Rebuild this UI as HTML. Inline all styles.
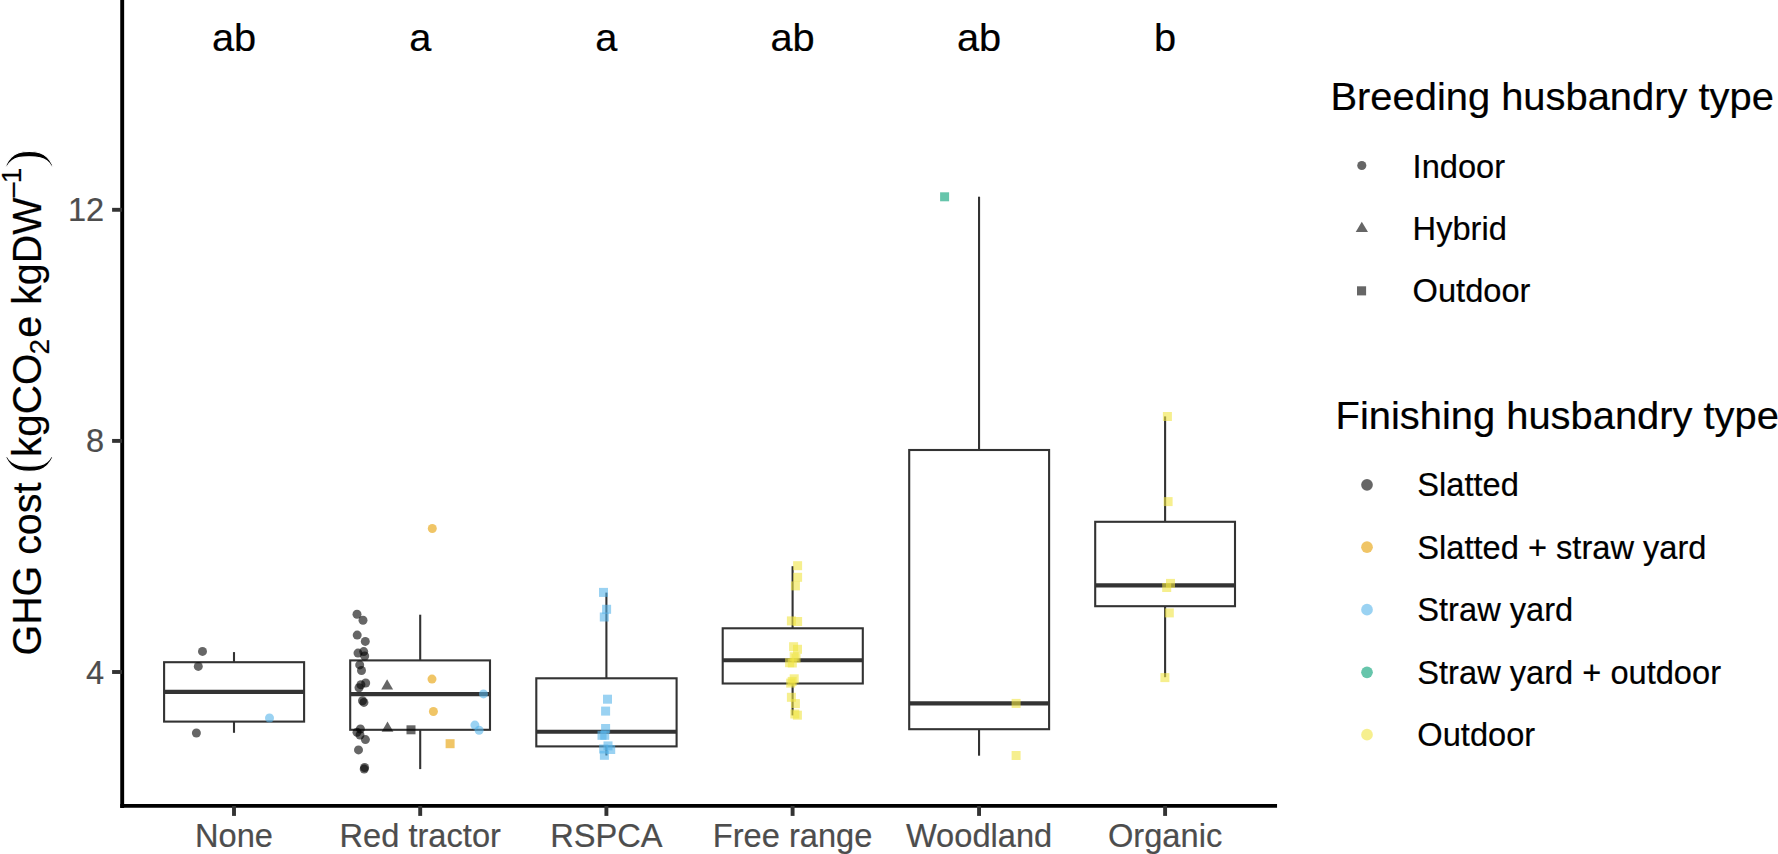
<!DOCTYPE html>
<html lang="en"><head><meta charset="utf-8"><title>GHG cost by label type</title>
<style>html,body{margin:0;padding:0;background:#fff;}body{width:1778px;height:854px;overflow:hidden;}svg{display:block;}text{font-family:"Liberation Sans",Arial,Helvetica,sans-serif;}</style>
</head><body>
<svg width="1778" height="854" viewBox="0 0 1778 854">
<rect width="1778" height="854" fill="#fff"/>
<g fill="none" stroke="#333333" stroke-width="2.1" stroke-linecap="butt">
<line x1="234.00" y1="652.10" x2="234.00" y2="662.20"/>
<line x1="234.00" y1="721.60" x2="234.00" y2="732.80"/>
<rect x="164.10" y="662.20" width="140.00" height="59.40" fill="#fff"/>
<line x1="164.10" y1="691.90" x2="304.10" y2="691.90" stroke-width="4.1"/>
<line x1="420.20" y1="614.70" x2="420.20" y2="660.40"/>
<line x1="420.20" y1="729.80" x2="420.20" y2="769.10"/>
<rect x="350.20" y="660.40" width="139.80" height="69.40" fill="#fff"/>
<line x1="350.20" y1="694.10" x2="490.00" y2="694.10" stroke-width="4.1"/>
<line x1="606.40" y1="592.60" x2="606.40" y2="678.30"/>
<line x1="606.40" y1="746.40" x2="606.40" y2="755.50"/>
<rect x="536.30" y="678.30" width="140.30" height="68.10" fill="#fff"/>
<line x1="536.30" y1="731.80" x2="676.60" y2="731.80" stroke-width="4.1"/>
<line x1="792.60" y1="566.20" x2="792.60" y2="628.30"/>
<line x1="792.60" y1="683.50" x2="792.60" y2="715.40"/>
<rect x="722.70" y="628.30" width="140.10" height="55.20" fill="#fff"/>
<line x1="722.70" y1="660.20" x2="862.80" y2="660.20" stroke-width="4.1"/>
<line x1="979.05" y1="196.70" x2="979.05" y2="450.00"/>
<line x1="979.05" y1="729.20" x2="979.05" y2="755.70"/>
<rect x="909.20" y="450.00" width="139.90" height="279.20" fill="#fff"/>
<line x1="909.20" y1="703.40" x2="1049.10" y2="703.40" stroke-width="4.1"/>
<line x1="1165.10" y1="416.40" x2="1165.10" y2="521.80"/>
<line x1="1165.10" y1="606.20" x2="1165.10" y2="677.20"/>
<rect x="1095.20" y="521.80" width="139.80" height="84.40" fill="#fff"/>
<line x1="1095.20" y1="585.40" x2="1235.00" y2="585.40" stroke-width="4.1"/>
</g>
<g fill-opacity="0.6">
<circle cx="202.5" cy="651.4" r="4.5" fill="#000000"/>
<circle cx="198.3" cy="666.4" r="4.5" fill="#000000"/>
<circle cx="196.4" cy="733.0" r="4.5" fill="#000000"/>
<circle cx="269.5" cy="718.0" r="4.5" fill="#56B4E9"/>
<circle cx="357.0" cy="614.3" r="4.5" fill="#000000"/>
<circle cx="363.0" cy="620.2" r="4.5" fill="#000000"/>
<circle cx="357.2" cy="635.1" r="4.5" fill="#000000"/>
<circle cx="365.3" cy="641.4" r="4.5" fill="#000000"/>
<circle cx="358.0" cy="653.1" r="4.5" fill="#000000"/>
<circle cx="363.7" cy="651.6" r="4.5" fill="#000000"/>
<circle cx="364.7" cy="656.0" r="4.5" fill="#000000"/>
<circle cx="359.7" cy="664.9" r="4.5" fill="#000000"/>
<circle cx="361.5" cy="670.5" r="4.5" fill="#000000"/>
<circle cx="365.7" cy="683.0" r="4.5" fill="#000000"/>
<circle cx="360.9" cy="684.8" r="4.5" fill="#000000"/>
<circle cx="359.0" cy="687.7" r="4.5" fill="#000000"/>
<circle cx="362.5" cy="700.8" r="4.5" fill="#000000"/>
<circle cx="363.9" cy="702.4" r="4.5" fill="#000000"/>
<circle cx="360.4" cy="729.0" r="4.5" fill="#000000"/>
<circle cx="357.0" cy="732.3" r="4.5" fill="#000000"/>
<circle cx="360.0" cy="735.0" r="4.5" fill="#000000"/>
<circle cx="365.4" cy="739.6" r="4.5" fill="#000000"/>
<circle cx="358.5" cy="749.9" r="4.5" fill="#000000"/>
<circle cx="364.6" cy="767.5" r="4.5" fill="#000000"/>
<circle cx="364.2" cy="769.1" r="4.5" fill="#000000"/>
<circle cx="432.3" cy="528.5" r="4.5" fill="#E69F00"/>
<circle cx="432.0" cy="679.1" r="4.5" fill="#E69F00"/>
<circle cx="433.4" cy="711.5" r="4.5" fill="#E69F00"/>
<circle cx="483.5" cy="693.9" r="4.5" fill="#56B4E9"/>
<circle cx="474.9" cy="725.1" r="4.5" fill="#56B4E9"/>
<circle cx="479.1" cy="730.2" r="4.5" fill="#56B4E9"/>
<path d="M387.1 679.2L393.1 689.5L381.2 689.5Z" fill="#000000"/>
<path d="M387.5 721.4L393.4 731.7L381.6 731.7Z" fill="#000000"/>
<rect x="406.5" y="725.3" width="9.0" height="9.0" fill="#000000"/>
<rect x="445.6" y="739.2" width="9.0" height="9.0" fill="#E69F00"/>
<rect x="599.0" y="587.9" width="9.0" height="9.0" fill="#56B4E9"/>
<rect x="602.1" y="604.8" width="9.0" height="9.0" fill="#56B4E9"/>
<rect x="599.8" y="612.5" width="9.0" height="9.0" fill="#56B4E9"/>
<rect x="603.0" y="694.7" width="9.0" height="9.0" fill="#56B4E9"/>
<rect x="601.1" y="706.6" width="9.0" height="9.0" fill="#56B4E9"/>
<rect x="601.1" y="724.0" width="9.0" height="9.0" fill="#56B4E9"/>
<rect x="597.5" y="730.8" width="9.0" height="9.0" fill="#56B4E9"/>
<rect x="600.2" y="730.8" width="9.0" height="9.0" fill="#56B4E9"/>
<rect x="603.5" y="741.4" width="9.0" height="9.0" fill="#56B4E9"/>
<rect x="599.2" y="744.5" width="9.0" height="9.0" fill="#56B4E9"/>
<rect x="606.2" y="745.0" width="9.0" height="9.0" fill="#56B4E9"/>
<rect x="599.9" y="750.8" width="9.0" height="9.0" fill="#56B4E9"/>
<rect x="793.1" y="561.2" width="9.0" height="9.0" fill="#F0E442"/>
<rect x="793.1" y="572.8" width="9.0" height="9.0" fill="#F0E442"/>
<rect x="790.9" y="581.4" width="9.0" height="9.0" fill="#F0E442"/>
<rect x="786.9" y="616.4" width="9.0" height="9.0" fill="#F0E442"/>
<rect x="793.1" y="617.0" width="9.0" height="9.0" fill="#F0E442"/>
<rect x="789.1" y="642.2" width="9.0" height="9.0" fill="#F0E442"/>
<rect x="793.0" y="644.8" width="9.0" height="9.0" fill="#F0E442"/>
<rect x="789.7" y="652.2" width="9.0" height="9.0" fill="#F0E442"/>
<rect x="791.5" y="653.8" width="9.0" height="9.0" fill="#F0E442"/>
<rect x="785.1" y="658.2" width="9.0" height="9.0" fill="#F0E442"/>
<rect x="787.8" y="658.5" width="9.0" height="9.0" fill="#F0E442"/>
<rect x="789.7" y="674.3" width="9.0" height="9.0" fill="#F0E442"/>
<rect x="786.2" y="678.6" width="9.0" height="9.0" fill="#F0E442"/>
<rect x="787.7" y="676.9" width="9.0" height="9.0" fill="#F0E442"/>
<rect x="786.9" y="692.8" width="9.0" height="9.0" fill="#F0E442"/>
<rect x="790.9" y="699.1" width="9.0" height="9.0" fill="#F0E442"/>
<rect x="792.9" y="710.7" width="9.0" height="9.0" fill="#F0E442"/>
<rect x="790.3" y="709.5" width="9.0" height="9.0" fill="#F0E442"/>
<rect x="940.1" y="192.3" width="9.0" height="9.0" fill="#009E73"/>
<rect x="1011.6" y="698.9" width="9.0" height="9.0" fill="#F0E442"/>
<rect x="1011.6" y="751.0" width="9.0" height="9.0" fill="#F0E442"/>
<rect x="1162.9" y="412.0" width="9.0" height="9.0" fill="#F0E442"/>
<rect x="1163.6" y="497.1" width="9.0" height="9.0" fill="#F0E442"/>
<rect x="1166.0" y="578.9" width="9.0" height="9.0" fill="#F0E442"/>
<rect x="1162.2" y="583.0" width="9.0" height="9.0" fill="#F0E442"/>
<rect x="1164.8" y="608.4" width="9.0" height="9.0" fill="#F0E442"/>
<rect x="1160.4" y="673.1" width="9.0" height="9.0" fill="#F0E442"/>
</g>
<line x1="122.2" y1="0" x2="122.2" y2="808" stroke="#000" stroke-width="3.9"/>
<line x1="120.25" y1="805.9" x2="1277.05" y2="805.9" stroke="#000" stroke-width="3.9"/>
<g stroke="#333333" stroke-width="3.9">
<line x1="112.1" y1="209.8" x2="122.0" y2="209.8"/>
<line x1="112.1" y1="440.9" x2="122.0" y2="440.9"/>
<line x1="112.1" y1="672.0" x2="122.0" y2="672.0"/>
<line x1="234.00" y1="806" x2="234.00" y2="815.9"/>
<line x1="420.20" y1="806" x2="420.20" y2="815.9"/>
<line x1="606.40" y1="806" x2="606.40" y2="815.9"/>
<line x1="792.60" y1="806" x2="792.60" y2="815.9"/>
<line x1="979.05" y1="806" x2="979.05" y2="815.9"/>
<line x1="1165.10" y1="806" x2="1165.10" y2="815.9"/>
</g>
<g fill="#4D4D4D" stroke="#4D4D4D" stroke-width="0.2">
<text transform="translate(104.20,221.30) scale(1.0000,1)" font-size="32.6" text-anchor="end">12</text>
<text transform="translate(104.20,452.40) scale(1.0000,1)" font-size="32.6" text-anchor="end">8</text>
<text transform="translate(104.20,683.50) scale(1.0000,1)" font-size="32.6" text-anchor="end">4</text>
<text transform="translate(234.00,846.60) scale(0.9950,1)" font-size="32.8" text-anchor="middle">None</text>
<text transform="translate(420.20,846.60) scale(0.9950,1)" font-size="32.8" text-anchor="middle">Red tractor</text>
<text transform="translate(606.40,846.60) scale(0.9950,1)" font-size="32.8" text-anchor="middle">RSPCA</text>
<text transform="translate(792.60,846.60) scale(0.9950,1)" font-size="32.8" text-anchor="middle">Free range</text>
<text transform="translate(979.05,846.60) scale(0.9950,1)" font-size="32.8" text-anchor="middle">Woodland</text>
<text transform="translate(1165.10,846.60) scale(0.9950,1)" font-size="32.8" text-anchor="middle">Organic</text>
</g>
<g fill="#000" stroke="#000" stroke-width="0.2">
<text transform="translate(234.00,51.00) scale(1.0200,1)" font-size="39" text-anchor="middle">ab</text>
<text transform="translate(420.20,51.00) scale(1.0200,1)" font-size="39" text-anchor="middle">a</text>
<text transform="translate(606.40,51.00) scale(1.0200,1)" font-size="39" text-anchor="middle">a</text>
<text transform="translate(792.60,51.00) scale(1.0200,1)" font-size="39" text-anchor="middle">ab</text>
<text transform="translate(979.05,51.00) scale(1.0200,1)" font-size="39" text-anchor="middle">ab</text>
<text transform="translate(1165.10,51.00) scale(1.0200,1)" font-size="39" text-anchor="middle">b</text>
</g>
<g transform="translate(41.3,655.5) rotate(-90)" fill="#000" stroke="#000" stroke-width="0.2">
<text transform="translate(0.00,0.00) scale(0.9850,1)" font-size="40" text-anchor="start">GHG cost</text>
<text transform="translate(181.60,0.90) scale(1.1000,1)" font-size="52.5" text-anchor="start" style="font-family:'Liberation Serif',serif" stroke="#fff" stroke-width="1.1">(</text>
<text transform="translate(198.60,0.00) scale(1.0110,1)" font-size="40" text-anchor="start">kgCO</text>
<text transform="translate(301.00,8.00) scale(1.0000,1)" font-size="28" text-anchor="start">2</text>
<text transform="translate(317.80,0.00) scale(0.9850,1)" font-size="40" text-anchor="start">e kgDW</text>
<text transform="translate(456.50,-18.80) scale(1.1000,1)" font-size="28" text-anchor="start">−</text>
<text transform="translate(472.20,-20.20) scale(1.0000,1)" font-size="28" text-anchor="start">1</text>
<text transform="translate(487.60,0.90) scale(1.1000,1)" font-size="52.5" text-anchor="start" style="font-family:'Liberation Serif',serif" stroke="#fff" stroke-width="1.1">)</text>
</g>
<g fill="#000" stroke="#000" stroke-width="0.2">
<text transform="translate(1330.50,109.60) scale(1.0150,1)" font-size="39.3" text-anchor="start">Breeding husbandry type</text>
<text transform="translate(1335.60,429.00) scale(1.0150,1)" font-size="39.3" text-anchor="start">Finishing husbandry type</text>
<text transform="translate(1412.60,177.80) scale(0.9950,1)" font-size="32.8" text-anchor="start">Indoor</text>
<text transform="translate(1412.60,240.10) scale(0.9950,1)" font-size="32.8" text-anchor="start">Hybrid</text>
<text transform="translate(1412.60,302.40) scale(0.9950,1)" font-size="32.8" text-anchor="start">Outdoor</text>
<text transform="translate(1417.30,495.60) scale(0.9950,1)" font-size="32.8" text-anchor="start">Slatted</text>
<text transform="translate(1417.30,558.60) scale(0.9950,1)" font-size="32.8" text-anchor="start">Slatted + straw yard</text>
<text transform="translate(1417.30,621.20) scale(0.9950,1)" font-size="32.8" text-anchor="start">Straw yard</text>
<text transform="translate(1417.30,683.70) scale(0.9950,1)" font-size="32.8" text-anchor="start">Straw yard + outdoor</text>
<text transform="translate(1417.30,746.40) scale(0.9950,1)" font-size="32.8" text-anchor="start">Outdoor</text>
</g>
<g fill-opacity="0.6">
<circle cx="1361.8" cy="165.5" r="4.55" fill="#000"/>
<path d="M1361.8 221.7L1368 231.9L1355.7 231.9Z" fill="#000"/>
<rect x="1357.0" y="286.3" width="9.1" height="9.1" fill="#000"/>
<circle cx="1367" cy="484.8" r="5.85" fill="#000000"/>
<circle cx="1367" cy="547.2" r="5.85" fill="#E69F00"/>
<circle cx="1367" cy="609.7" r="5.85" fill="#56B4E9"/>
<circle cx="1367" cy="672.3" r="5.85" fill="#009E73"/>
<circle cx="1367" cy="734.7" r="5.85" fill="#F0E442"/>
</g>
</svg></body></html>
